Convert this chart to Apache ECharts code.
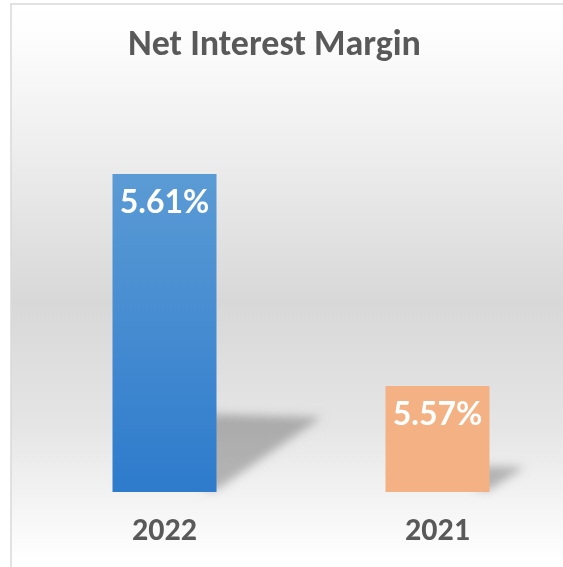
<!DOCTYPE html>
<html>
<head>
<meta charset="utf-8">
<script src="https://cdn.jsdelivr.net/npm/echarts@6/dist/echarts.min.js"></script>
<style>
  html, body { margin: 0; padding: 0; background: #fff; }
  #chart { width: 563px; height: 567px; }
</style>
</head>
<body>
<div id="chart"></div>
<script>
// net interest margin chart
const years = ['2022', '2021'];
const margins = [5.61, 5.57];
const barColors = [['#5b9bd5', '#2e7bcc'], ['#f4b183', '#f4b183']];
const axisMin = 5.55;
const axisMax = 5.62;

const chart = echarts.init(document.getElementById('chart'));

// soft perspective shadow behind each bar (blurred shape drawn off-canvas, shadow shifted back)
const SHIFT = 2000;
function renderShadow(params, api) {
    const top = api.coord([api.value(0), api.value(1)]);
    const base = api.coord([api.value(0), axisMin]);
    const half = 52;
    const right = top[0] + half;
    const h = base[1] - top[1];
    const pts = [
        [right - 12, base[1] - 0.245 * h],
        [right + 0.33 * h, base[1] - 0.235 * h],
        [right, base[1] - 2],
        [right - 12, base[1] - 2]
    ].map(p => [p[0] - SHIFT, p[1]]);
    return {
        type: 'polygon',
        shape: { points: pts },
        style: {
            fill: '#000',
            shadowColor: 'rgba(0,0,0,0.25)',
            shadowBlur: 10,
            shadowOffsetX: SHIFT,
            shadowOffsetY: 0
        }
    };
}

const option = {
    animation: false,
    graphic: [{
        type: 'rect',
        z: -100,
        silent: true,
        shape: { x: 11, y: 4, width: 600, height: 620 },
        style: {
            fill: new echarts.graphic.LinearGradient(0, 0, 0, 1, [
                { offset: 0, color: '#ffffff' },
                { offset: 0.05, color: '#fdfdfd' },
                { offset: 0.22, color: '#efefef' },
                { offset: 0.48, color: '#d8d8d8' },
                { offset: 0.68, color: '#e5e5e5' },
                { offset: 0.82, color: '#f6f6f6' },
                { offset: 0.9, color: '#ffffff' },
                { offset: 1, color: '#ffffff' }
            ]),
            stroke: '#d9d9d9',
            lineWidth: 1.5
        }
    }],
    title: {
        text: 'Net Interest Margin',
        left: 128,
        top: 28,
        padding: 0,
        textStyle: {
            fontFamily: 'Carlito, "Open Sans", sans-serif',
            fontWeight: 'bold',
            fontSize: 36,
            color: '#595959'
        }
    },
    grid: { left: 28, width: 546, top: 121, bottom: 75, outerBoundsMode: 'none', containLabel: false },
    xAxis: {
        type: 'category',
        data: years,
        axisLine: { show: false },
        axisTick: { show: false },
        axisLabel: {
            margin: 24,
            fontFamily: 'Carlito, "Open Sans", sans-serif',
            fontWeight: 'bold',
            fontSize: 32,
            color: '#595959'
        }
    },
    yAxis: {
        type: 'value',
        min: axisMin,
        max: axisMax,
        show: false,
        splitLine: { show: false }
    },
    series: [
        {
            type: 'custom',
            z: 1,
            silent: true,
            renderItem: renderShadow,
            data: margins.map((v, i) => [i, v])
        },
        {
            type: 'bar',
            z: 3,
            barWidth: 104,
            data: margins.map((v, i) => ({
                value: v,
                itemStyle: {
                    color: new echarts.graphic.LinearGradient(0, 0, 0, 1, [
                        { offset: 0, color: barColors[i][0] },
                        { offset: 1, color: barColors[i][1] }
                    ])
                }
            })),
            label: {
                show: true,
                position: 'insideTop',
                distance: 13,
                formatter: p => p.value.toFixed(2) + '%',
                fontFamily: 'Lato, sans-serif',
                fontWeight: 'bold',
                fontSize: 32,
                color: '#ffffff'
            }
        }
    ]
};
chart.setOption(option);
</script>
</body>
</html>
